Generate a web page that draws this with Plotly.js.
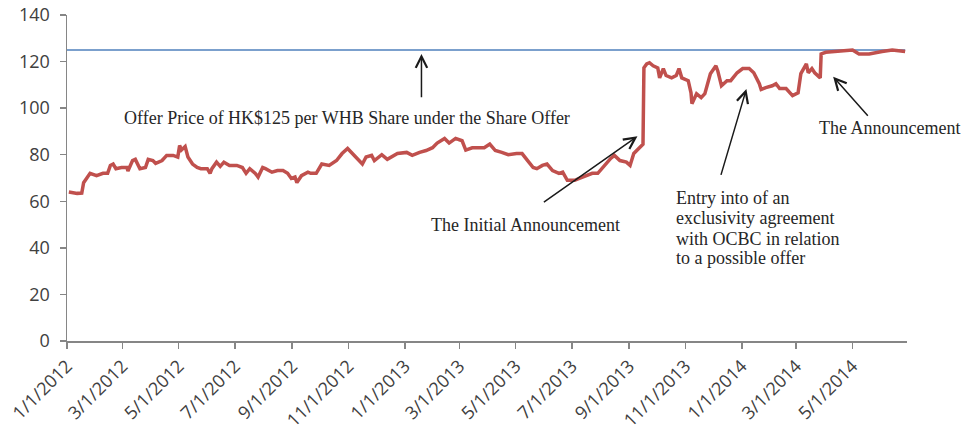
<!DOCTYPE html>
<html>
<head>
<meta charset="utf-8">
<script src="https://cdn.plot.ly/plotly-3.0.1.min.js"></script>
<style>html,body{margin:0;padding:0;background:#fff}#chart{width:965px;height:430px}</style>
</head>
<body>
<div id="chart"></div>
<script>
// ---- data ----
const priceDates = [
'2012-01-03','2012-01-12','2012-01-17','2012-01-19','2012-01-26','2012-02-02','2012-02-09','2012-02-14','2012-02-17','2012-02-20',
'2012-02-23','2012-02-29','2012-03-06','2012-03-07','2012-03-12','2012-03-15','2012-03-20','2012-03-26','2012-03-29','2012-04-03',
'2012-04-06','2012-04-13','2012-04-18','2012-04-25','2012-04-30','2012-05-02','2012-05-04','2012-05-08','2012-05-11','2012-05-16',
'2012-05-21','2012-05-25','2012-06-01','2012-06-04','2012-06-06','2012-06-11','2012-06-15','2012-06-19','2012-06-25','2012-07-03',
'2012-07-09','2012-07-13','2012-07-17','2012-07-23','2012-07-26','2012-07-31','2012-08-03','2012-08-10','2012-08-16','2012-08-22',
'2012-08-27','2012-08-31','2012-09-04','2012-09-06','2012-09-11','2012-09-18','2012-09-21','2012-09-27','2012-10-03','2012-10-11',
'2012-10-19','2012-10-25','2012-10-31','2012-11-05','2012-11-12','2012-11-16','2012-11-20','2012-11-26','2012-11-29','2012-12-07',
'2012-12-13','2012-12-24','2013-01-03','2013-01-09','2013-01-17','2013-01-24','2013-01-31','2013-02-05','2013-02-13','2013-02-18',
'2013-02-25','2013-03-04','2013-03-08','2013-03-15','2013-03-22','2013-03-28','2013-04-03','2013-04-09','2013-04-16','2013-04-23',
'2013-05-02','2013-05-08','2013-05-14','2013-05-20','2013-05-24','2013-05-30','2013-06-04','2013-06-10','2013-06-17','2013-06-21',
'2013-06-26','2013-07-04','2013-07-09','2013-07-17','2013-07-23','2013-07-29','2013-08-05','2013-08-12','2013-08-16','2013-08-22',
'2013-08-29','2013-09-02','2013-09-06','2013-09-12','2013-09-16','2013-09-17','2013-09-20','2013-09-23','2013-09-27','2013-10-02',
'2013-10-04','2013-10-08','2013-10-11','2013-10-17','2013-10-22','2013-10-25','2013-10-28','2013-11-04','2013-11-07','2013-11-08',
'2013-11-13','2013-11-18','2013-11-22','2013-11-28','2013-12-04','2013-12-06','2013-12-10','2013-12-16','2013-12-20','2013-12-27',
'2014-01-02','2014-01-09','2014-01-14','2014-01-20','2014-01-22','2014-01-27','2014-02-03','2014-02-07','2014-02-11','2014-02-18',
'2014-02-25','2014-03-03','2014-03-06','2014-03-12','2014-03-14','2014-03-18','2014-03-21','2014-03-27','2014-03-28','2014-04-02',
'2014-04-14','2014-05-01','2014-05-08','2014-05-19','2014-06-02','2014-06-13','2014-06-27'
];
const priceValues = [
64,63.4,63.5,68,72,71,72,72,75.4,76,
74,74.5,74.5,73,77.5,78,74,74.5,78,77.5,
76.3,77.5,79.7,79.7,79,84,82,83.5,79,76,
74.5,74,74,72,74,76.8,75,76.8,75.4,75.4,
74.5,72,74,72,70.4,74.5,74,72.5,73.2,73.2,
72,69.8,70.4,68,71,72.5,72,72,76,75.4,
77.5,80.5,82.7,80.5,77.5,76,79,79.7,77.5,80,
78,80.5,81,79.7,81,81.8,83,85,87,85,
87,86,82,83,83,83,84.6,81.8,81,80,
80.5,80.5,77.5,74.5,74,75.4,76,73.2,72,72.5,
69,69,69.8,71,72,72,75.4,78.4,79.7,77.5,
76.8,75.4,80.5,83,84.5,117.3,119,119.5,118.2,117.3,
113,117,114,113,114,117,113,111.8,106.6,101.9,
106.2,104.5,106.2,114.8,118.2,116,109.6,111.8,111.8,115.2,
117,117,115.2,110.5,108,108.8,109.6,110.5,108.4,108.4,
105.4,106.6,114.8,119,115.2,117,115.2,113,123.3,124,
124.3,125,123.3,123.3,124.3,125,124.3
];
const offerDates = ['2012-01-01', '2014-06-27'];
const offerPrice = [125, 125];
const offerLabel = 'Offer Price of HK$125 per WHB Share under the Share Offer';
const initialLabel = 'The Initial Announcement';
const announcementLabel = 'The Announcement';
const entryLines = ['Entry into of an', 'exclusivity agreement', 'with OCBC in relation', 'to a possible offer'];

// ---- chart ----
const textFont = {family: '"Liberation Serif", "Times New Roman", serif', size: 18, color: '#262626'};
const tickFont = {family: '"Open Sans", Calibri, sans-serif', size: 18, color: '#404040'};
const axisCol = '#868686';

const traces = [
  {x: offerDates, y: offerPrice, type: 'scatter', mode: 'lines',
   line: {color: '#4F81BD', width: 1.5}, hoverinfo: 'skip'},
  {x: priceDates, y: priceValues, type: 'scatter', mode: 'lines',
   line: {color: '#C0504D', width: 3.5}}
];

function arrow(x, y, ax, ay) {
  return {xref: 'x', yref: 'y', axref: 'x', ayref: 'y', x: x, y: y, ax: ax, ay: ay,
          text: '', showarrow: true, arrowhead: 5, arrowsize: 1.5, arrowwidth: 1.5,
          arrowcolor: '#1a1a1a'};
}
function label(x, y, text, xanchor) {
  return {xref: 'x', yref: 'y', x: x, y: y, text: text, showarrow: false,
          xanchor: xanchor || 'center', yanchor: 'middle', font: textFont};
}

const entryY = [61.2, 52.7, 43.9, 35.5];
const annotations = [
  arrow('2013-01-19', 123.3, '2013-01-19', 104),
  arrow('2013-09-10', 87.9, '2013-05-30', 59.2),
  arrow('2014-01-06', 108.2, '2013-12-09', 70.7),
  arrow('2014-04-10', 113.5, '2014-05-19', 96.1),
  label('2012-10-30', 95.9, offerLabel),
  label('2013-05-12', 49.7, initialLabel),
  label('2014-06-10', 91.6, announcementLabel)
];
entryLines.forEach((t, i) => annotations.push(label('2013-10-20', entryY[i], t, 'left')));

const layout = {
  width: 965, height: 430,
  margin: {l: 67, r: 58, t: 15, b: 89, pad: 0},
  paper_bgcolor: '#ffffff', plot_bgcolor: '#ffffff',
  showlegend: false,
  xaxis: {
    type: 'date', range: ['2012-01-01', '2014-06-29'],
    tick0: '2012-01-01', dtick: 'M2', tickformat: '%-m/%-d/%Y', tickangle: -45,
    showgrid: false, zeroline: false, showline: true, linecolor: axisCol, linewidth: 1.5,
    ticks: 'outside', ticklen: 6, tickcolor: axisCol, tickwidth: 1.5, tickfont: tickFont
  },
  yaxis: {
    range: [0, 140], dtick: 20, tick0: 0,
    showgrid: false, zeroline: false, showline: true, linecolor: axisCol, linewidth: 1.5,
    ticks: 'outside', ticklen: 6, tickcolor: axisCol, tickwidth: 1.5, tickfont: tickFont,
    ticklabelstandoff: 6
  },
  annotations: annotations
};

Plotly.newPlot('chart', traces, layout, {staticPlot: true, displayModeBar: false});
</script>
</body>
</html>
